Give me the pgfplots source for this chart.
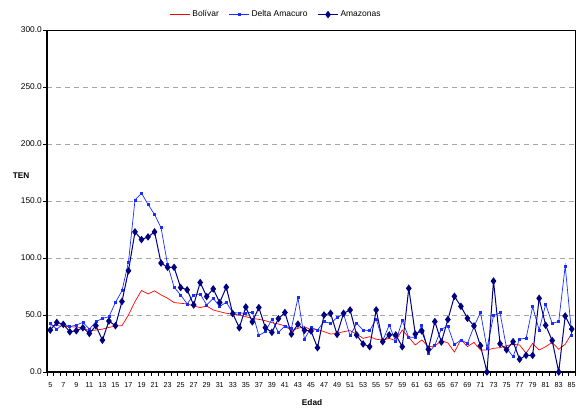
\documentclass[border=0pt]{standalone}
\usepackage{pgfplots}
\usepackage{pgfplotstable}
\pgfplotsset{compat=1.18}
\usepackage{fontspec}
\setmainfont{Liberation Sans}

\definecolor{bolivar}{RGB}{255,0,0}
\definecolor{delta}{RGB}{25,45,255}
\definecolor{amaz}{RGB}{0,0,128}
\definecolor{gridgray}{RGB}{165,165,165}

% Edad, Bolivar, Delta Amacuro, Amazonas
\pgfplotstableread{
age B D A
5 41.2 42.6 36.8
6 40.6 37.6 43.5
7 40.3 42.0 41.8
8 39.7 39.7 35.3
9 39.4 41.2 36.2
10 38.8 43.5 38.8
11 36.2 37.6 33.8
12 36.8 44.1 40.6
13 37.6 47.0 27.9
14 39.1 48.5 44.7
15 40.3 60.9 40.6
16 40.6 71.2 61.8
17 50.0 96.5 88.8
18 61.8 150.9 122.9
19 71.5 156.8 116.2
20 68.5 147.0 118.5
21 71.2 138.2 122.9
22 67.6 126.5 95.6
23 64.7 94.1 91.8
24 60.9 74.4 91.8
25 60.3 67.6 74.1
26 59.7 59.7 72.1
27 57.9 67.6 58.8
28 56.5 68.5 78.5
29 57.9 58.8 66.2
30 54.4 64.7 72.9
31 52.9 57.4 60.9
32 51.5 61.2 74.4
33 50.9 52.0 51.2
34 50.0 51.8 38.8
35 48.5 51.5 57.0
36 47.0 52.5 44.0
37 46.2 32.0 56.5
38 45.0 35.4 38.9
39 43.3 46.2 34.8
40 42.1 34.8 46.8
41 40.4 40.4 52.2
42 36.3 38.3 33.3
43 38.3 65.2 42.0
44 39.8 28.7 36.6
45 36.8 39.2 36.0
46 37.4 36.8 21.3
47 35.4 44.2 50.0
48 33.3 42.7 51.5
49 33.9 47.7 33.0
50 35.4 50.9 51.5
51 36.3 31.8 54.4
52 33.2 42.7 32.5
53 29.5 36.8 24.6
54 31.0 36.3 22.2
55 28.7 46.5 54.4
56 28.1 27.5 26.6
57 29.5 41.2 32.5
58 27.5 26.6 32.5
59 36.8 45.0 22.2
60 30.4 30.4 73.4
61 23.7 30.4 33.3
62 28.1 40.6 36.0
63 22.2 16.4 19.9
64 22.8 23.7 44.2
65 27.5 37.7 26.3
66 25.5 40.0 46.0
67 17.5 24.0 66.4
68 28.4 28.1 57.6
69 22.2 25.1 47.1
70 26.0 39.8 40.4
71 19.3 52.3 23.1
72 19.3 20.8 0.0
73 20.8 49.4 79.8
74 21.3 52.0 24.8
75 23.1 21.0 19.5
76 24.3 13.5 26.6
77 23.7 29.0 11.2
78 16.4 29.5 14.6
79 25.1 57.3 14.6
80 19.3 36.8 64.6
81 22.2 59.4 41.0
82 26.0 42.7 27.6
83 19.9 44.2 0.0
84 24.3 93.0 49.1
85 33.9 32.5 37.7
}\data

\begin{document}
\begin{tikzpicture}
\path[use as bounding box] (-47bp,-39bp) rectangle (532bp,372bp);
\begin{axis}[
    overlay,
    at={(0,0)}, anchor=south west,
    scale only axis,
    width=528bp, height=342bp,
    xmin=4.5, xmax=85.5,
    ymin=0, ymax=300,
    clip=false,
    axis line style={black, line width=0.6bp},
    xtick={4.5,5.5,...,85.5},
    xticklabels={},
    extra x ticks={5,7,...,85},
    extra x tick style={major tick length=0pt, grid=none},
    ytick={0,50,...,300},
    tick align=outside,
    xtick pos=bottom, ytick pos=left,
    major tick length=3.5bp,
    tick style={black, line width=0.6bp},
    ymajorgrids,
    grid style={gridgray, line width=0.8bp, dash pattern=on 5bp off 4bp},
    /pgf/number format/assume math mode=true,
    yticklabel={\pgfmathprintnumber[fixed, fixed zerofill, precision=1]{\tick}},
    y tick label style={font=\fontsize{8.4}{10}\selectfont, inner sep=1.5bp},
    x tick label style={font=\fontsize{7.2}{9}\selectfont, yshift=-7bp},
    every axis y label/.style={at={(axis description cs:-0.049,0.573)}, anchor=center,
        font=\bfseries\fontsize{8.3}{10}\selectfont},
    every axis x label/.style={at={(axis description cs:0.502,-0.088)}, anchor=center,
        font=\bfseries\fontsize{8.3}{10}\selectfont},
    ylabel={TEN},
    xlabel={Edad},
    legend columns=3,
    legend style={at={(0.434,1.045)}, anchor=center, draw=none, fill=none,
        font=\fontsize{8.5}{10}\selectfont,
        /tikz/every even column/.append style={column sep=8bp}},
    legend image code/.code={\draw[mark repeat=2, mark phase=2]
        plot coordinates {(0bp,0bp) (10bp,0bp) (20bp,0bp)};},
]
\addplot[bolivar, line width=0.7bp, mark=none] table[x=age, y=B] {\data};
\addlegendentry{Bolívar}
\addplot[delta, line width=0.7bp, mark=square*, mark size=1bp,
    mark options={solid, fill=delta}] table[x=age, y=D] {\data};
\addlegendentry{Delta Amacuro}
\addplot[amaz, line width=1bp, mark=diamond*, mark size=3bp,
    mark options={solid, fill=amaz}] table[x=age, y=A] {\data};
\addlegendentry{Amazonas}
\draw[black, line width=1.6bp] (rel axis cs:0,1) -- (rel axis cs:0,0) -- (rel axis cs:1,0);
\end{axis}
\end{tikzpicture}
\end{document}
